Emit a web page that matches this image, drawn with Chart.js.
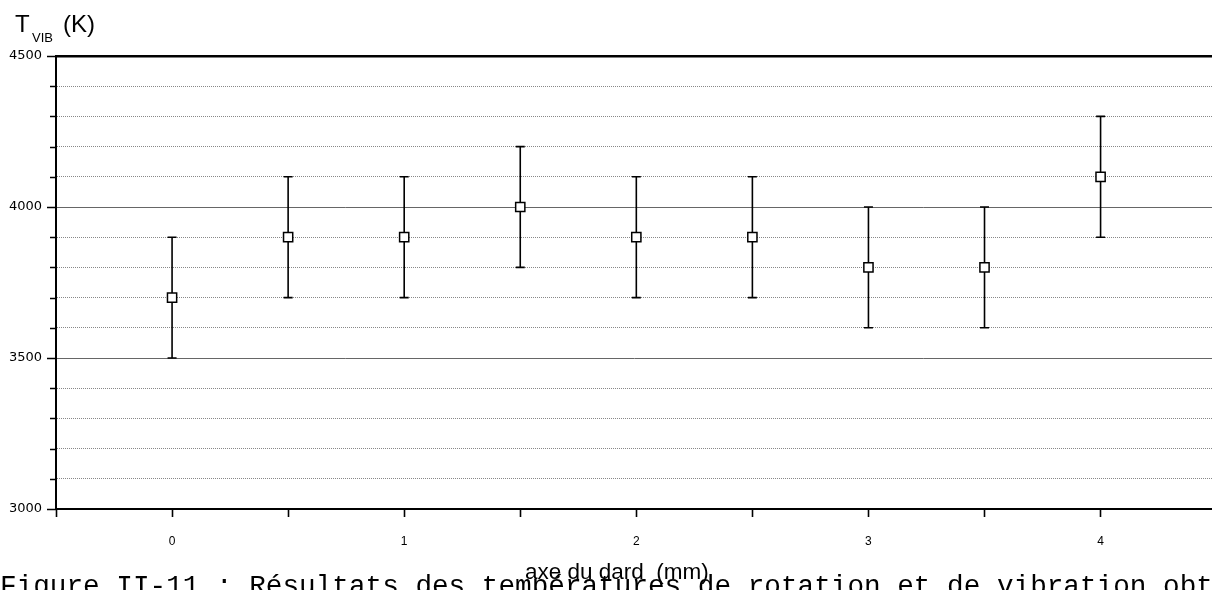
<!DOCTYPE html>
<html>
<head>
<meta charset="utf-8">
<script src="https://cdn.jsdelivr.net/npm/chart.js@4/dist/chart.umd.min.js"></script>
<style>
  html, body { margin: 0; padding: 0; background: #fff; }
  #wrap { position: relative; width: 1212px; height: 590px; overflow: hidden; }
</style>
</head>
<body>
<div id="wrap"><canvas id="chart" width="1212" height="590"></canvas></div>
<script>
// distance along the dart axis (mm)
const positions = [0, 0.5, 1, 1.5, 2, 2.5, 3, 3.5, 4];
// vibrational temperature (K)
const tVib = [3700, 3900, 3900, 4000, 3900, 3900, 3800, 3800, 4100];
// error bar half-widths (K)
const tVibErr = [200, 200, 200, 200, 200, 200, 200, 200, 200];
const yMajorTicks = [3000, 3500, 4000, 4500];
const xTickLabels = [0, 1, 2, 3, 4];

const points = positions.map((x, i) => ({ x: x, y: tVib[i] }));

// error bars under the markers
const errorBars = {
  id: "errorBars",
  beforeDatasetsDraw(chart) {
    const ctx = chart.ctx;
    const xs = chart.scales.x, ys = chart.scales.y;
    ctx.save();
    ctx.strokeStyle = "#000";
    ctx.lineWidth = 1.6;
    positions.forEach((p, i) => {
      const px = xs.getPixelForValue(p);
      const top = ys.getPixelForValue(tVib[i] + tVibErr[i]);
      const bot = ys.getPixelForValue(tVib[i] - tVibErr[i]);
      ctx.beginPath();
      ctx.moveTo(px, top);
      ctx.lineTo(px, bot);
      ctx.moveTo(px - 4.5, top);
      ctx.lineTo(px + 4.5, top);
      ctx.moveTo(px - 4.5, bot);
      ctx.lineTo(px + 4.5, bot);
      ctx.stroke();
    });
    ctx.restore();
  }
};

// y tick marks (long for labelled values), titles and caption
const decorations = {
  id: "decorations",
  afterDraw(chart) {
    const ctx = chart.ctx;
    const ys = chart.scales.y;
    const left = chart.chartArea.left;
    ctx.save();
    ctx.strokeStyle = "#000";
    ctx.lineWidth = 1.5;
    ys.ticks.forEach((t) => {
      const py = Math.round(ys.getPixelForValue(t.value)) + 0.5;
      const len = yMajorTicks.includes(t.value) ? 9 : 6;
      ctx.beginPath();
      ctx.moveTo(left - len, py);
      ctx.lineTo(left, py);
      ctx.stroke();
    });

    ctx.fillStyle = "#000";
    ctx.textBaseline = "alphabetic";
    ctx.textAlign = "left";
    ctx.font = "24px 'Liberation Sans', Arial, sans-serif";
    ctx.fillText("T", 15, 32);
    ctx.font = "13px 'Liberation Sans', Arial, sans-serif";
    ctx.fillText("VIB", 32, 42);
    ctx.font = "24px 'Liberation Sans', Arial, sans-serif";
    ctx.fillText("(K)", 63, 32);

    ctx.font = "22.5px 'Liberation Sans Narrow', 'Liberation Sans', Arial, sans-serif";
    ctx.fillText("axe du dard  (mm)", 525, 579);

    ctx.font = "27.7px 'Liberation Mono', 'DejaVu Sans Mono', monospace";
    ctx.fillText("Figure II-11 : Résultats des températures de rotation et de vibration obtenus", 0, 594);
    ctx.restore();
  }
};

new Chart(document.getElementById("chart"), {
  type: "scatter",
  data: {
    datasets: [{
      label: "T VIB",
      data: points,
      showLine: false,
      pointStyle: "rect",
      pointRadius: 6.5,
      pointHoverRadius: 6.5,
      pointBorderWidth: 1.5,
      pointBorderColor: "#000",
      pointBackgroundColor: "#fff"
    }]
  },
  options: {
    responsive: false,
    animation: false,
    events: [],
    layout: { autoPadding: false, padding: { top: 56, left: 0, right: 0, bottom: 0 } },
    plugins: { legend: { display: false }, tooltip: { enabled: false } },
    scales: {
      x: {
        type: "linear",
        min: -0.5,
        max: 4.48,
        afterFit: (s) => { s.height = 81; s.paddingRight = 0; s.paddingLeft = 0; },
        afterBuildTicks: (s) => {
          s.ticks = s.ticks.filter((t) => Math.abs(t.value * 2 - Math.round(t.value * 2)) < 1e-6);
        },
        ticks: {
          stepSize: 0.5,
          padding: 17,
          color: "#000",
          font: { family: "'Liberation Sans', Arial, sans-serif", size: 12 },
          autoSkip: false,
          maxRotation: 0,
          callback: (v) => xTickLabels.includes(v) ? String(v) : ""
        },
        grid: {
          drawOnChartArea: false,
          drawTicks: true,
          tickLength: 8,
          tickWidth: 1.6,
          tickColor: "#000"
        },
        border: { display: true, color: "#000", width: 2 }
      },
      y: {
        type: "linear",
        min: 3000,
        max: 4500,
        afterFit: (s) => { s.width = 56; },
        ticks: {
          stepSize: 100,
          padding: 14,
          color: "#000",
          font: { family: "'DejaVu Sans', 'Liberation Sans', sans-serif", size: 13 },
          autoSkip: false,
          callback: (v) => yMajorTicks.includes(v) ? String(v) : ""
        },
        grid: {
          drawTicks: false,
          color: (c) => {
            const v = c.tick ? c.tick.value : 0;
            if (v === 4500 || v === 3000) return "#000";
            return yMajorTicks.includes(v) ? "#666" : "#888";
          },
          lineWidth: (c) => (c.tick && c.tick.value === 4500) ? 2.5 : 1
        },
        border: {
          display: true,
          color: "#000",
          width: 2,
          dash: (c) => (c.tick && !yMajorTicks.includes(c.tick.value)) ? [1, 1] : []
        }
      }
    }
  },
  plugins: [errorBars, decorations]
});
</script>
</body>
</html>
